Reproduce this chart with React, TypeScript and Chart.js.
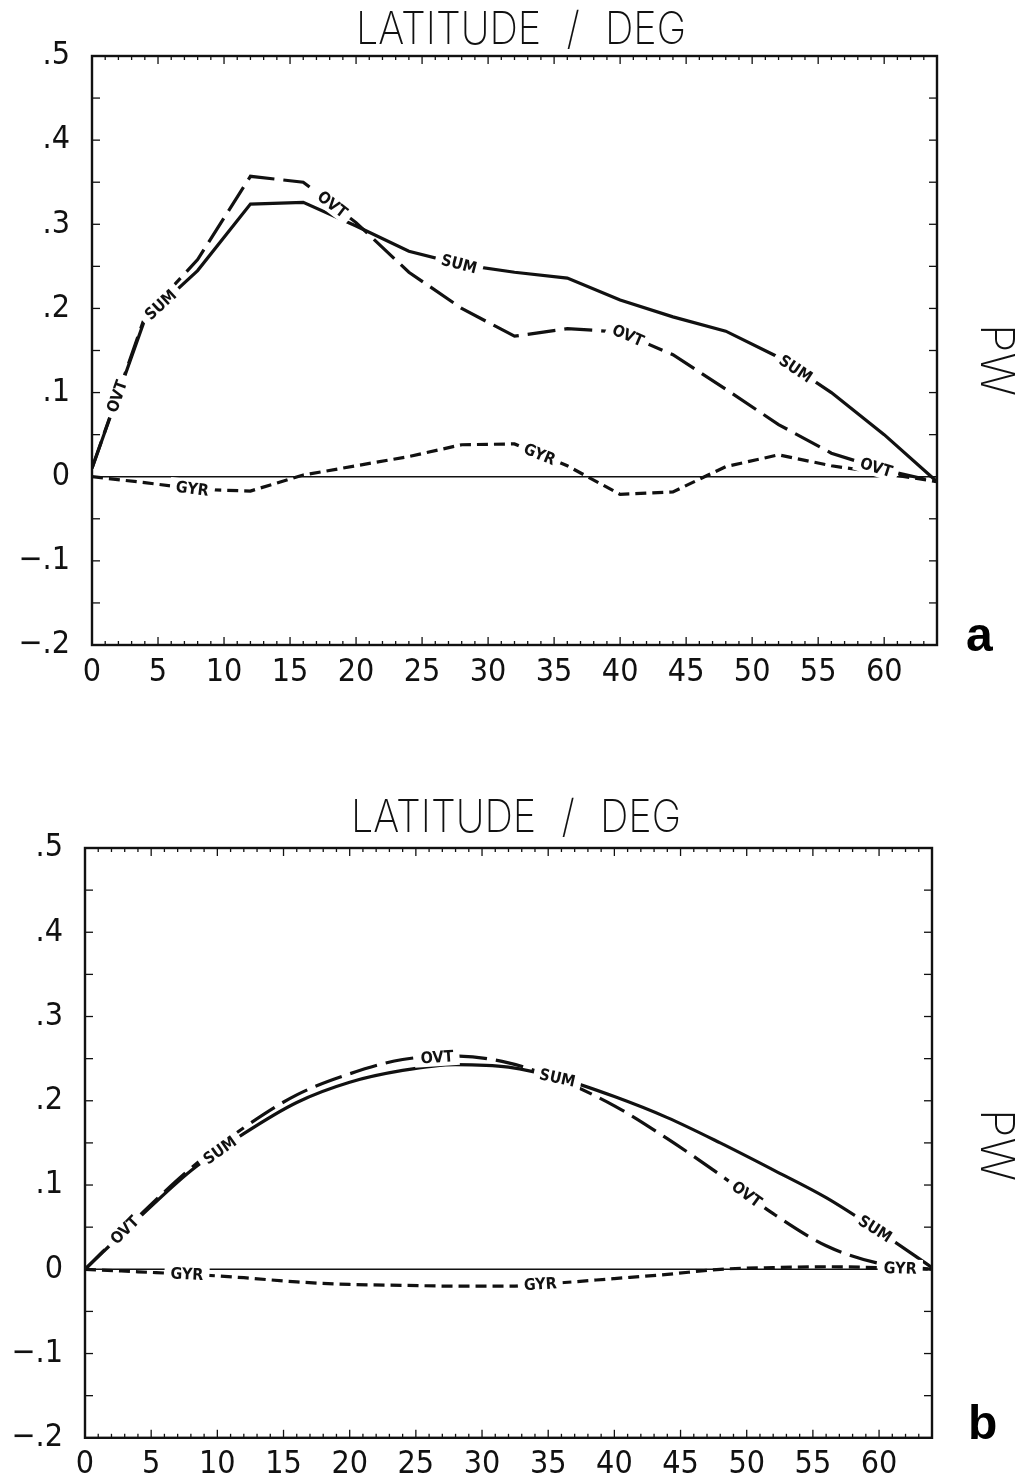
import React, { useEffect, useRef } from "react";
import { Chart, registerables } from "chart.js";

Chart.register(...registerables);

// ---------- data ----------
const LATITUDES = [0, 4, 8, 12, 16, 20, 24, 28, 32, 36, 40, 44, 48, 52, 56, 60, 64];

// panel a
const SUM_A = [0.01, 0.187, 0.245, 0.324, 0.326, 0.298, 0.268, 0.252, 0.243, 0.236, 0.21, 0.19, 0.173, 0.142, 0.1, 0.05, -0.006];
const OVT_A = [0.01, 0.19, 0.258, 0.357, 0.35, 0.302, 0.243, 0.2, 0.167, 0.176, 0.172, 0.145, 0.104, 0.062, 0.028, 0.008, -0.006];
const GYR_A = [0, -0.007, -0.015, -0.017, 0.002, 0.013, 0.024, 0.038, 0.039, 0.013, -0.021, -0.018, 0.012, 0.026, 0.013, 0.004, -0.006];

// panel b
const SUM_B = [0, 0.06, 0.117, 0.161, 0.198, 0.222, 0.236, 0.243, 0.24, 0.226, 0.205, 0.18, 0.15, 0.118, 0.085, 0.045, 0.002];
const OVT_B = [0, 0.062, 0.12, 0.168, 0.207, 0.232, 0.249, 0.253, 0.245, 0.224, 0.194, 0.155, 0.112, 0.066, 0.028, 0.007, 0];
const GYR_B = [0, -0.003, -0.006, -0.01, -0.015, -0.018, -0.019, -0.02, -0.02, -0.016, -0.011, -0.006, 0, 0.002, 0.003, 0.002, 0];

// inline curve labels (series name, latitude where the label sits)
const LABEL_SERIES_A = ["OVT", "SUM", "OVT", "SUM", "OVT", "SUM", "OVT", "GYR", "GYR"];
const LABEL_LAT_A = [1.9, 5.2, 18.2, 27.8, 40.6, 53.3, 59.4, 7.6, 33.9];
const LABEL_SERIES_B = ["OVT", "SUM", "OVT", "SUM", "OVT", "SUM", "GYR", "GYR", "GYR"];
const LABEL_LAT_B = [3.0, 10.2, 26.6, 35.7, 50.0, 59.7, 7.7, 34.4, 61.6];

const X_TICKS = [0, 5, 10, 15, 20, 25, 30, 35, 40, 45, 50, 55, 60];
const Y_TICK_LABELS: Record<string, string> = {
  "5": ".5", "4": ".4", "3": ".3", "2": ".2", "1": ".1", "0": "0", "-1": "\u2212.1", "-2": "\u2212.2",
};

const TITLE = "LATITUDE / DEG";
const UNIT = "PW";

// ---------- styling ----------
const W = 1022;
const NARROW = "'Liberation Sans Narrow','DejaVu Sans Condensed','Arial Narrow','Liberation Sans',sans-serif";
const THIN = "Inter,'Open Sans',Roboto,'Liberation Sans',sans-serif";
const INK = "#111111";

type Panel = {
  top: number;
  height: number;
  left: number;
  right: number;
  areaTop: number;
  areaBottom: number;
  sum: number[];
  ovt: number[];
  gyr: number[];
  labelSeries: string[];
  labelLat: number[];
  smooth: boolean;
};

function pts(vals: number[]) {
  return LATITUDES.map((x, i) => ({ x, y: vals[i] }));
}

function makeFramePlugin() {
  return {
    id: "frame",
    beforeDatasetsDraw(chart: any) {
      const { ctx, chartArea } = chart;
      const { left, right, top, bottom } = chartArea;
      const xs = chart.scales.x;
      const ys = chart.scales.y;
      const seg = (a: number, b: number, c: number, d: number) => {
        ctx.beginPath();
        ctx.moveTo(a, b);
        ctx.lineTo(c, d);
        ctx.stroke();
      };
      ctx.save();
      ctx.strokeStyle = INK;
      ctx.lineWidth = 1.6;
      const y0 = ys.getPixelForValue(0);
      seg(left, y0, right, y0);
      ctx.lineWidth = 1.3;
      for (let d = 1; d < 64; d++) {
        const px = xs.getPixelForValue(d);
        const len = d % 5 === 0 ? 8 : 4;
        seg(px, bottom, px, bottom - len);
        seg(px, top, px, top + len);
      }
      for (let k = -3; k <= 9; k++) {
        const py = ys.getPixelForValue(k * 0.05);
        seg(left, py, left + 8, py);
        seg(right, py, right - 8, py);
      }
      ctx.lineWidth = 2.4;
      ctx.strokeRect(left, top, right - left, bottom - top);
      ctx.restore();
    },
  };
}

function makeLabelPlugin(series: string[], lats: number[]) {
  return {
    id: "inlineLabels",
    afterDatasetsDraw(chart: any) {
      const { ctx } = chart;
      ctx.save();
      ctx.font = `bold 16px ${NARROW}`;
      ctx.textAlign = "center";
      ctx.textBaseline = "middle";
      series.forEach((name, li) => {
        const di = chart.data.datasets.findIndex((d: any) => d.label === name);
        if (di < 0) return;
        const meta = chart.getDatasetMeta(di);
        const data = chart.data.datasets[di].data as { x: number; y: number }[];
        const lat = lats[li];
        let i = 0;
        while (i < data.length - 2 && data[i + 1].x < lat) i++;
        const p0 = meta.data[i];
        const p1 = meta.data[i + 1];
        const t = (lat - data[i].x) / (data[i + 1].x - data[i].x);
        const px = p0.x + (p1.x - p0.x) * t;
        const py = p0.y + (p1.y - p0.y) * t;
        let ang = Math.atan2(p1.y - p0.y, p1.x - p0.x);
        if (ang > Math.PI / 2) ang -= Math.PI;
        if (ang < -Math.PI / 2) ang += Math.PI;
        const tw = ctx.measureText(name).width;
        ctx.save();
        ctx.translate(px, py);
        ctx.rotate(ang);
        ctx.fillStyle = "#ffffff";
        ctx.fillRect(-tw / 2 - 6, -9, tw + 12, 18);
        ctx.fillStyle = INK;
        ctx.fillText(name, 0, 1);
        ctx.restore();
      });
      ctx.restore();
    },
  };
}

function PanelChart({ cfg }: { cfg: Panel }) {
  const ref = useRef<HTMLCanvasElement | null>(null);
  useEffect(() => {
    const canvas = ref.current;
    if (!canvas) return;
    const tension = cfg.smooth ? 0.4 : 0;
    const mode = cfg.smooth ? "monotone" : "default";
    const chart = new Chart(canvas, {
      type: "line",
      data: {
        datasets: [
          { label: "SUM", data: pts(cfg.sum), borderColor: INK, borderWidth: 3.2, pointRadius: 0, tension, cubicInterpolationMode: mode, fill: false },
          { label: "OVT", data: pts(cfg.ovt), borderColor: INK, borderWidth: 3.2, borderDash: [28, 9], pointRadius: 0, tension, cubicInterpolationMode: mode, fill: false },
          { label: "GYR", data: pts(cfg.gyr), borderColor: INK, borderWidth: 3.2, borderDash: [11, 6], pointRadius: 0, tension, cubicInterpolationMode: mode, fill: false },
        ],
      } as any,
      options: {
        animation: false,
        responsive: false,
        events: [],
        layout: { padding: { left: 0, top: cfg.areaTop, right: W - cfg.right, bottom: 0 } },
        plugins: { legend: { display: false }, tooltip: { enabled: false } },
        scales: {
          x: {
            type: "linear",
            min: 0,
            max: 64,
            grid: { display: false, drawTicks: false },
            border: { display: false },
            afterFit: (s: any) => {
              s.height = cfg.height - cfg.areaBottom;
            },
            afterBuildTicks: (s: any) => {
              s.ticks = X_TICKS.map((v) => ({ value: v }));
            },
            ticks: {
              autoSkip: false,
              maxRotation: 0,
              padding: 8,
              color: INK,
              font: { family: NARROW, size: 32 },
              callback: (v: any) => String(v),
            },
          },
          y: {
            type: "linear",
            min: -0.2,
            max: 0.5,
            grid: { display: false, drawTicks: false },
            border: { display: false },
            afterFit: (s: any) => {
              s.width = cfg.left;
            },
            ticks: {
              stepSize: 0.1,
              padding: 22,
              color: INK,
              font: { family: NARROW, size: 32 },
              callback: (v: any) => Y_TICK_LABELS[String(Math.round(Number(v) * 10))] ?? "",
            },
          },
        },
      } as any,
      plugins: [makeFramePlugin(), makeLabelPlugin(cfg.labelSeries, cfg.labelLat)],
    });
    return () => chart.destroy();
  }, [cfg]);
  return (
    <canvas
      ref={ref}
      width={W}
      height={cfg.height}
      style={{ position: "absolute", left: 0, top: cfg.top, width: W, height: cfg.height }}
    />
  );
}

const PANEL_A: Panel = {
  top: 0, height: 720, left: 92, right: 937, areaTop: 56, areaBottom: 645,
  sum: SUM_A, ovt: OVT_A, gyr: GYR_A, labelSeries: LABEL_SERIES_A, labelLat: LABEL_LAT_A, smooth: false,
};
const PANEL_B: Panel = {
  top: 730, height: 749, left: 85, right: 932, areaTop: 118, areaBottom: 708,
  sum: SUM_B, ovt: OVT_B, gyr: GYR_B, labelSeries: LABEL_SERIES_B, labelLat: LABEL_LAT_B, smooth: true,
};

const titleStyle = (top: number, cx: number): React.CSSProperties => ({
  position: "absolute",
  left: cx - 300,
  width: 600,
  top,
  textAlign: "center",
  fontFamily: THIN,
  fontWeight: 200,
  fontSize: 45,
  lineHeight: "44px",
  wordSpacing: 16,
  color: INK,
  whiteSpace: "pre",
  transform: "scaleX(0.88)",
});

const unitStyle = (cy: number): React.CSSProperties => ({
  position: "absolute",
  left: 998 - 45,
  top: cy - 25,
  width: 90,
  height: 50,
  lineHeight: "50px",
  textAlign: "center",
  fontFamily: THIN,
  fontWeight: 200,
  fontSize: 46,
  color: INK,
  transform: "rotate(90deg)",
});

const letterStyle = (top: number, left: number): React.CSSProperties => ({
  position: "absolute",
  left,
  top,
  fontFamily: "'Liberation Sans',Arial,sans-serif",
  fontWeight: 700,
  fontSize: 48,
  lineHeight: "48px",
  color: "#000",
});

export default function App() {
  return (
    <div style={{ position: "absolute", left: 0, top: 0, width: W, height: 1479, background: "#fff", overflow: "hidden" }}>
      <PanelChart cfg={PANEL_A} />
      <PanelChart cfg={PANEL_B} />
      <div style={titleStyle(6, 521)}>{TITLE}</div>
      <div style={titleStyle(794, 516)}>{TITLE}</div>
      <div style={unitStyle(360)}>{UNIT}</div>
      <div style={unitStyle(1145)}>{UNIT}</div>
      <div style={letterStyle(611, 966)}>a</div>
      <div style={letterStyle(1399, 968)}>b</div>
    </div>
  );
}
